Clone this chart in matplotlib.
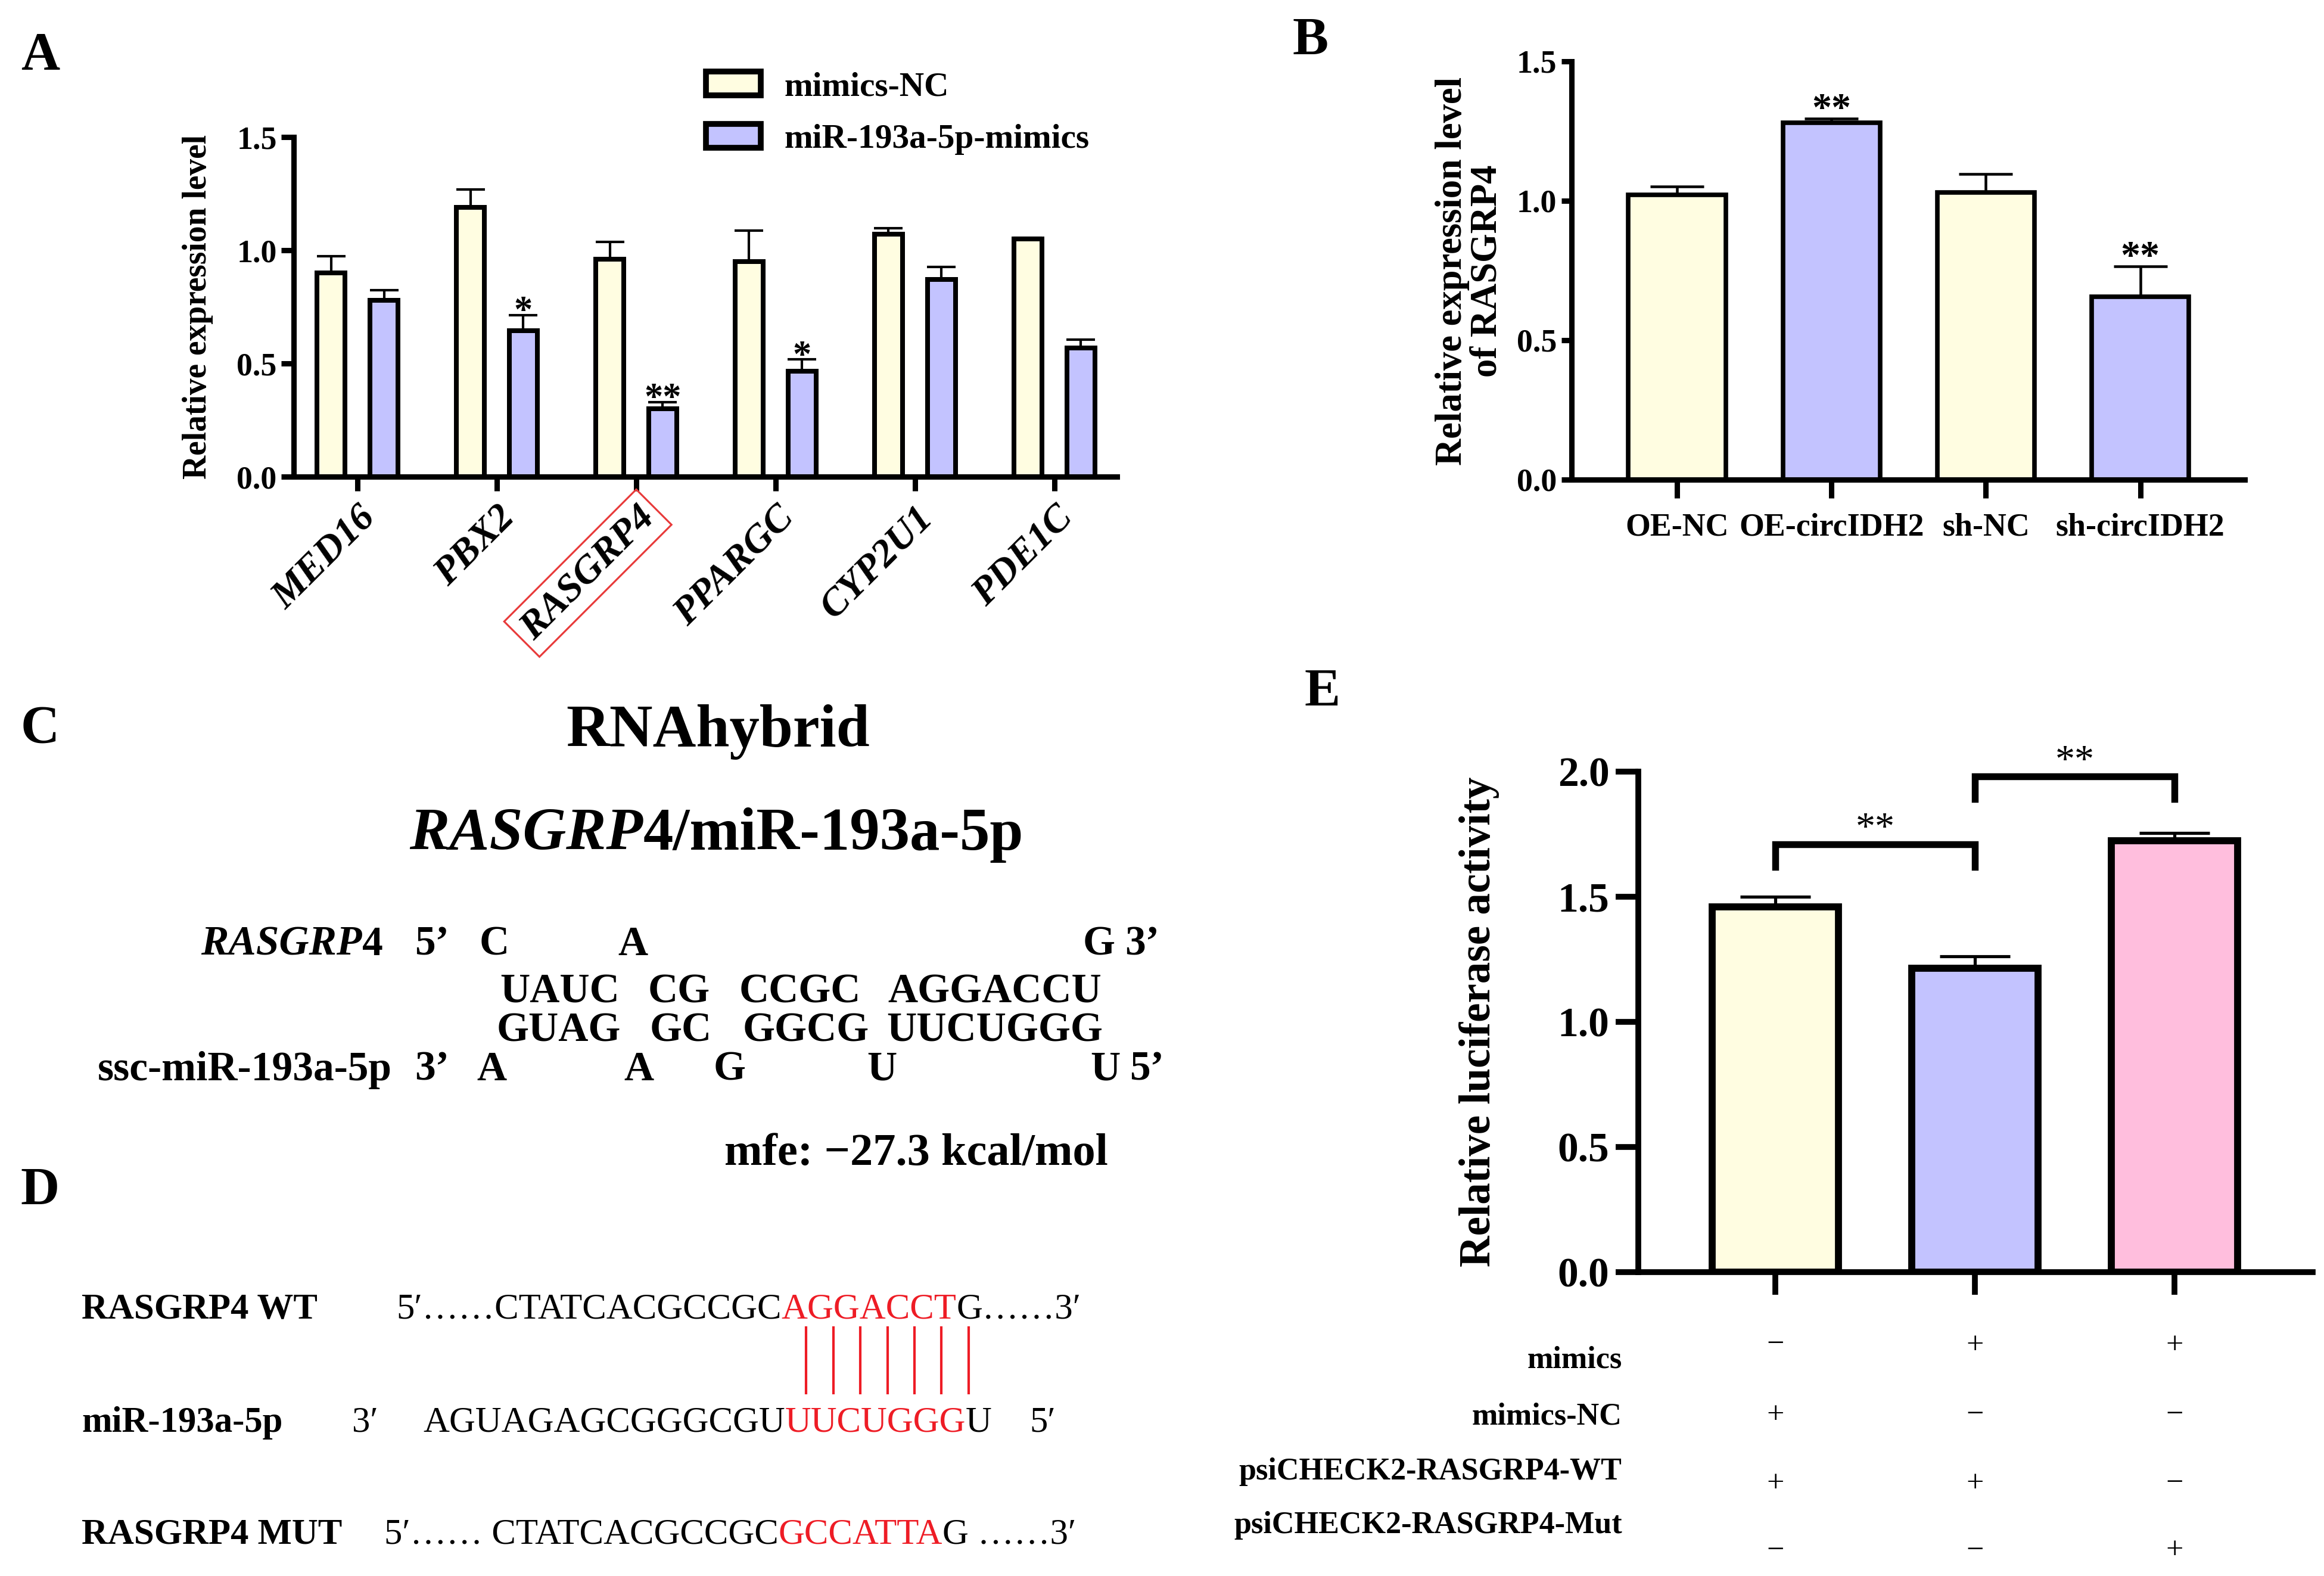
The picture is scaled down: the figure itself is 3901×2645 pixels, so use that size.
import numpy as np
import matplotlib
matplotlib.use('Agg')
import matplotlib.pyplot as plt
from matplotlib.lines import Line2D
from matplotlib.patches import Patch
from matplotlib.transforms import blended_transform_factory

plt.rcParams['font.family'] = ['Liberation Serif', 'DejaVu Serif']
plt.rcParams['font.weight'] = 'bold'
plt.rcParams['axes.labelweight'] = 'bold'

# ---- data ----
# A: predicted targets after miR-193a-5p mimics
genes = ['MED16', 'PBX2', 'RASGRP4', 'PPARGC', 'CYP2U1', 'PDE1C']
nc_mean = [0.90, 1.19, 0.96, 0.95, 1.07, 1.05]
nc_err = [0.075, 0.078, 0.078, 0.138, 0.027, 0.004]
mim_mean = [0.78, 0.645, 0.30, 0.466, 0.872, 0.568]
mim_err = [0.044, 0.068, 0.030, 0.052, 0.055, 0.038]
stars_A = ['', '*', '**', '*', '', '']

# B: RASGRP4 after circIDH2 OE / knockdown
groups_B = ['OE-NC', 'OE-circIDH2', 'sh-NC', 'sh-circIDH2']
B_mean = [1.02, 1.28, 1.03, 0.655]
B_err = [0.03, 0.015, 0.065, 0.11]
stars_B = ['', '**', '', '**']

# E: dual luciferase
E_mean = [1.46, 1.215, 1.725]
E_err = [0.04, 0.047, 0.03]
bracket_pairs = [(0, 1), (1, 2)]
bracket_y = [1.71, 1.98]
bracket_leg = [1.62, 1.89]
table_rows = ['mimics', 'mimics-NC', 'psiCHECK2-RASGRP4-WT', 'psiCHECK2-RASGRP4-Mut']
table_signs = [['\u2212', '+', '+'],
               ['+', '\u2212', '\u2212'],
               ['+', '+', '\u2212'],
               ['\u2212', '\u2212', '+']]

YELLOW = '#fffde1'
BLUE = '#c3c3ff'
PINK = '#ffbedd'
RED = '#ee1c25'

# layout is worked out in 1/100 inch units (figure = 1560.8 x 1058)
W, H = 1560.8, 1058.0
def fx(x): return x / W
def fy(y): return 1 - y / H
def box(l, r, t, b): return [fx(l), fy(b), (r - l) / W, (b - t) / H]
def bl(yc, size): return yc + 0.33 * size / 0.72   # cap-centre -> baseline

fig = plt.figure(figsize=(W / 100, H / 100), dpi=250)
rend = fig.canvas.get_renderer()

def style_axes(ax, lw):
    for s in ['top', 'right']:
        ax.spines[s].set_visible(False)
    for s in ['left', 'bottom']:
        ax.spines[s].set_linewidth(lw)

def put_runs(x, yc, parts, size, ha='left', weight='bold'):
    ts = []
    for s, extra in parts:
        kw = dict(fontweight=weight, color='k')
        kw.update(extra)
        ts.append(fig.text(0, fy(bl(yc, size)), s, fontsize=size, va='baseline', **kw))
    widths = [t.get_window_extent(rend).width / fig.bbox.width for t in ts]
    total = sum(widths)
    start = fx(x) - {'left': 0, 'center': total / 2, 'right': total}[ha]
    for t, w in zip(ts, widths):
        t.set_x(start)
        start += w
    return ts

# ---------------- A ----------------
axA = fig.add_axes(box(197, 750, 92, 320))
xa = np.arange(len(genes))
off, bw = 0.19, 0.2
axA.errorbar(xa - off, nc_mean, yerr=[np.zeros(len(xa)), nc_err], fmt='none', ecolor='k',
             elinewidth=1.2, capsize=7, capthick=1.2, zorder=1)
axA.errorbar(xa + off, mim_mean, yerr=[np.zeros(len(xa)), mim_err], fmt='none', ecolor='k',
             elinewidth=1.2, capsize=7, capthick=1.2, zorder=1)
axA.bar(xa - off, nc_mean, bw, color=YELLOW, edgecolor='k', linewidth=2.3, zorder=2)
axA.bar(xa + off, mim_mean, bw, color=BLUE, edgecolor='k', linewidth=2.3, zorder=2)
for i, s in enumerate(stars_A):
    if s:
        axA.text(xa[i] + off, mim_mean[i] + mim_err[i] - 0.03, s, ha='center', va='baseline', fontsize=18)
style_axes(axA, 2.6)
axA.set_ylim(0, 1.5)
axA.set_xlim(-0.46, 5.45)
yt = [0, 0.5, 1.0, 1.5]
axA.set_yticks(yt)
axA.set_yticklabels([f'{t:.1f}' for t in yt])
axA.tick_params(axis='y', length=6, width=2.6, labelsize=15.5, pad=2)
axA.set_xticks(xa)
axA.set_xticklabels(genes, rotation=45, ha='right', rotation_mode='anchor',
                    fontstyle='italic', fontsize=19)
axA.tick_params(axis='x', length=7, width=2.6, pad=4)
axA.get_xticklabels()[2].set_bbox(dict(boxstyle='square,pad=0.18', fc='none', ec='#e83a3a', lw=0.9))
axA.set_ylabel('Relative expression level', fontsize=16)
axA.yaxis.set_label_coords(fx(143), fy(206), transform=fig.transFigure)
axA.legend(handles=[Patch(fc=YELLOW, ec='k', lw=2.8, label='mimics-NC'),
                    Patch(fc=BLUE, ec='k', lw=2.8, label='miR-193a-5p-mimics')],
           loc='upper left', bbox_to_anchor=(fx(474), fy(48)), bbox_transform=fig.transFigure,
           frameon=False, fontsize=16.5, handlelength=1.6, handleheight=0.7,
           handletextpad=0.7, labelspacing=0.62, borderpad=0, borderaxespad=0)

# ---------------- B ----------------
axB = fig.add_axes(box(1055, 1507, 41, 322))
xb = np.arange(len(groups_B))
axB.errorbar(xb, B_mean, yerr=[np.zeros(len(xb)), B_err], fmt='none', ecolor='k',
             elinewidth=1.3, capsize=13, capthick=1.3, zorder=1)
axB.bar(xb, B_mean, 0.63, color=[YELLOW, BLUE, YELLOW, BLUE], edgecolor='k', linewidth=2.2, zorder=2)
for i, s in enumerate(stars_B):
    if s:
        axB.text(xb[i], B_mean[i] + B_err[i] - 0.005, s, ha='center', va='baseline', fontsize=19)
style_axes(axB, 2.6)
axB.set_ylim(0, 1.5)
axB.set_xlim(-0.685, 3.675)
axB.set_yticks(yt)
axB.set_yticklabels([f'{t:.1f}' for t in yt])
axB.tick_params(axis='y', length=5, width=2.6, labelsize=15.5, pad=2)
axB.set_xticks(xb)
axB.set_xticklabels(groups_B, fontsize=15.5)
axB.tick_params(axis='x', length=9, width=2.6, pad=7)
axB.set_ylabel('Relative expression level\nof RASGRP4', fontsize=18, linespacing=1.0)
axB.yaxis.set_label_coords(fx(1010), fy(182), transform=fig.transFigure)

# ---------------- E ----------------
axE = fig.add_axes(box(1100, 1553, 518, 854))
xe = np.arange(len(E_mean))
axE.errorbar(xe, E_mean, yerr=[np.zeros(len(xe)), E_err], fmt='none', ecolor='k',
             elinewidth=1.5, capsize=17, capthick=1.5, zorder=1)
axE.bar(xe, E_mean, 0.634, color=[YELLOW, BLUE, PINK], edgecolor='k', linewidth=3.4, zorder=2)
for (a, b), yb, yl in zip(bracket_pairs, bracket_y, bracket_leg):
    axE.plot([xe[a], xe[a], xe[b], xe[b]], [yl, yb, yb, yl], color='k', lw=3.3,
             solid_joinstyle='miter', clip_on=False)
    axE.text((xe[a] + xe[b]) / 2, yb + 0.02, '**', ha='center', va='baseline',
             fontsize=19, fontweight='normal')
style_axes(axE, 2.8)
axE.set_ylim(0, 2.0)
axE.set_xlim(-0.687, 2.694)
yte = [0, 0.5, 1.0, 1.5, 2.0]
axE.set_yticks(yte)
axE.set_yticklabels([f'{t:.1f}' for t in yte])
axE.tick_params(axis='y', length=11, width=2.8, labelsize=20, pad=3)
axE.set_xticks(xe)
axE.set_xticklabels([])
axE.tick_params(axis='x', length=11, width=2.8)
axE.set_ylabel('Relative luciferase activity', fontsize=21)
axE.yaxis.set_label_coords(fx(1007), fy(686), transform=fig.transFigure)

row_label_y = [913, 951, 988, 1024]
row_sign_y = [903, 950, 996, 1041]
tr = blended_transform_factory(axE.transData, fig.transFigure)
for lab, ly, sy, signs in zip(table_rows, row_label_y, row_sign_y, table_signs):
    fig.text(fx(1089), fy(ly), lab, ha='right', va='center', fontsize=15)
    for j, sg in enumerate(signs):
        fig.text(xe[j], fy(sy), sg, transform=tr, ha='center', va='center',
                 fontsize=15, fontweight='normal')

# ---------------- panel letters ----------------
for letter, (px, py) in zip('ABCDE', [(27, 38), (880, 28), (27, 490), (27, 800), (888, 465)]):
    fig.text(fx(px), fy(py), letter, ha='center', va='center', fontsize=26)

# ---------------- C ----------------
put_runs(482, 488, [('RNAhybrid', {})], 29, ha='center')
put_runs(481, 557, [('RASGRP', {'fontstyle': 'italic'}), ('4/miR-193a-5p', {})], 29, ha='center')
cs = 20
put_runs(257, 632, [('RASGRP', {'fontstyle': 'italic'}), ('4', {})], cs, ha='right')
put_runs(263, 716, [('ssc-miR-193a-5p', {})], cs, ha='right')
c_tokens = [
    (632, [('5\u2019', 290), ('C', 332), ('A', 425), ('G', 738), ('3\u2019', 767)]),
    (664, [('UAUC', 376), ('CG', 456), ('CCGC', 537), ('AGGACCU', 668)]),
    (690, [('GUAG', 375), ('GC', 457), ('GGCG', 541), ('UUCUGGG', 668)]),
    (716, [('3\u2019', 290), ('A', 330), ('A', 429), ('G', 490), ('U', 592), ('U', 742), ('5\u2019', 770)]),
]
for yc, toks in c_tokens:
    for s, xc in toks:
        put_runs(xc, yc, [(s, {})], cs, ha='center')
put_runs(615, 772, [('mfe: \u221227.3 kcal/mol', {})], 22, ha='center')

# ---------------- D ----------------
ds = 17.5
put_runs(55, 877, [('RASGRP4 WT', {})], ds)
put_runs(55, 953, [('miR-193a-5p', {})], ds)
put_runs(55, 1028, [('RASGRP4 MUT', {})], ds)
nw = {'fontweight': 'normal'}
wt = put_runs(266, 877, [('5\u2032\u2026\u2026CTATCACGCCGC', nw), ('AGGACCT', dict(nw, color=RED)),
                         ('G\u2026\u20263\u2032', nw)], ds)
put_runs(245, 953, [('3\u2032', nw)], ds, ha='center')
mi = put_runs(284, 953, [('AGUAGAGCGGGCGU', nw), ('UUCUGGG', dict(nw, color=RED)), ('U', nw)], ds)
put_runs(700, 953, [('5\u2032', nw)], ds, ha='center')
put_runs(258, 1028, [('5\u2032\u2026\u2026 CTATCACGCCGC', nw), ('GCCATTA', dict(nw, color=RED)),
                     ('G \u2026\u20263\u2032', nw)], ds)

# base-pair ticks between the seed letters
b1 = wt[1].get_window_extent(rend)
b2 = mi[1].get_window_extent(rend)
x0 = (b1.x0 + b2.x0) / 2
wd = (b1.width + b2.width) / 2
for j in range(7):
    xl = (x0 + wd * (0.13 + 0.152 * j)) / fig.bbox.width
    fig.add_artist(Line2D([xl, xl], [fy(891), fy(935)], color=RED, lw=1.2,
                          transform=fig.transFigure))

fig.savefig('out.png', dpi=250, facecolor='white')
